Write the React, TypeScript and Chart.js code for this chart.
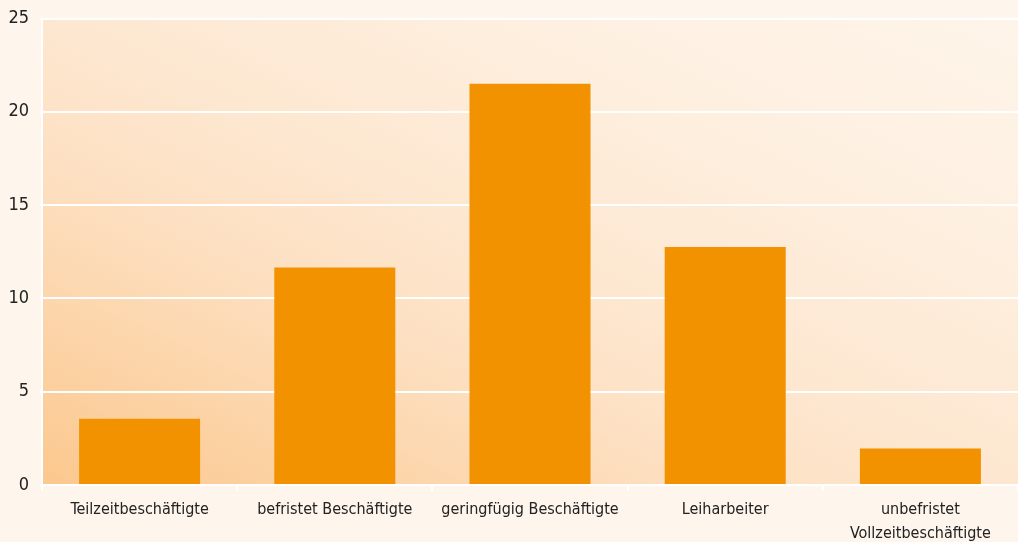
import React, { useEffect, useRef } from "react";
import { Chart, registerables } from "chart.js";

Chart.register(...registerables);

const categories: (string | string[])[] = [
  "Teilzeitbeschäftigte",
  "befristet Beschäftigte",
  "geringfügig Beschäftigte",
  "Leiharbeiter",
  ["unbefristet", "Vollzeitbeschäftigte"],
];
const values = [3.55, 11.65, 21.5, 12.75, 1.95];
const yMin = 0;
const yMax = 25;
const yStep = 5;

const FONT = '"Liberation Sans Narrow", "DejaVu Sans Condensed", "Arial Narrow", sans-serif';
const PAGE_BG = "#FEF5EC";
const BAR_COLOR = "#F29200";
const TEXT = "#222222";

const bgPlugin = {
  id: "bgPlugin",
  beforeDraw(chart: any) {
    const { ctx, chartArea, width, height } = chart;
    ctx.save();
    ctx.fillStyle = PAGE_BG;
    ctx.fillRect(0, 0, width, height);
    const { left, top, right, bottom } = chartArea;
    ctx.translate(left, top);
    ctx.scale(right - left, bottom - top);
    const g = ctx.createLinearGradient(0, 1, 1, 0);
    g.addColorStop(0, "#FBC88E");
    g.addColorStop(0.35, "#FDE0C2");
    g.addColorStop(0.5, "#FDE7D0");
    g.addColorStop(0.8, "#FEF1E3");
    g.addColorStop(1, "#FEF4E9");
    ctx.fillStyle = g;
    ctx.fillRect(0, 0, 1, 1);
    ctx.restore();
  },
};

export default function App() {
  const ref = useRef<HTMLCanvasElement | null>(null);
  useEffect(() => {
    if (!ref.current) return;
    const chart = new Chart(ref.current, {
      type: "bar",
      data: {
        labels: categories as any,
        datasets: [
          {
            data: values,
            backgroundColor: BAR_COLOR,
            borderWidth: 0,
            categoryPercentage: 1,
            barPercentage: 0.62,
          },
        ],
      },
      options: {
        animation: false,
        responsive: true,
        maintainAspectRatio: false,
        layout: { padding: { top: 18.5, left: 0, right: 0, bottom: 0 } },
        plugins: {
          legend: { display: false },
          tooltip: { enabled: false },
        },
        scales: {
          x: {
            offset: true,
            grid: {
              display: true,
              drawOnChartArea: false,
              drawTicks: true,
              tickLength: 6,
              color: "#FFFFFF",
              lineWidth: 2,
              offset: true,
            },
            border: { display: true, color: "#FFFFFF", width: 2 },
            ticks: {
              color: TEXT,
              font: { family: FONT, size: 16, lineHeight: 1.55 },
              padding: 6,
              maxRotation: 0,
              autoSkip: false,
            },
            afterFit(scale: any) {
              scale.height = 57;
              scale.paddingLeft = 0;
              scale.paddingRight = 0;
            },
          },
          y: {
            min: yMin,
            max: yMax,
            grid: {
              color: "#FFFFFF",
              lineWidth: 2,
              tickLength: 2,
            },
            border: { display: true, color: "#FFFFFF", width: 2 },
            ticks: {
              stepSize: yStep,
              color: TEXT,
              font: { family: FONT, size: 18 },
              padding: 11,
            },
            afterFit(scale: any) {
              scale.width = 42;
              scale.paddingTop = 0;
              scale.paddingBottom = 0;
            },
          },
        },
      },
      plugins: [bgPlugin],
    });
    return () => chart.destroy();
  }, []);

  return (
    <div style={{ position: "fixed", left: 0, top: 0, width: 1018, height: 542, overflow: "hidden" }}>
      <canvas ref={ref} width={1018} height={542} />
    </div>
  );
}
